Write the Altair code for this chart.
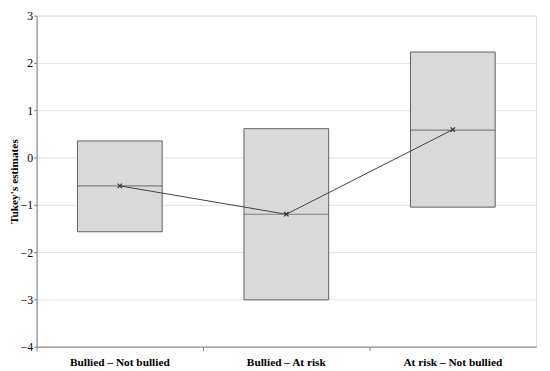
import altair as alt
import pandas as pd

categories = ["Bullied – Not bullied", "Bullied – At risk", "At risk – Not bullied"]
lower = [-1.57, -3.01, -1.05]
upper = [0.35, 0.61, 2.23]
median = [-0.60, -1.20, 0.58]
estimate = [-0.60, -1.20, 0.59]
y_ticks = [-4, -3, -2, -1, 0, 1, 2, 3]

df = pd.DataFrame({
    "cat": categories,
    "lower": lower,
    "upper": upper,
    "median": median,
    "est": estimate,
    "order": [0, 1, 2],
})

serif = "Liberation Serif"

x_enc = alt.X(
    "cat:N",
    sort=categories,
    title=None,
    scale=alt.Scale(paddingInner=0, paddingOuter=0),
    axis=alt.Axis(
        labelAngle=0,
        labelFont=serif,
        labelFontWeight="bold",
        labelFontSize=11.5,
        labelColor="#000000",
        labelPadding=6,
        bandPosition=0,
        tickSize=4,
        tickColor="#7f7f7f",
        domainColor="#7f7f7f",
        grid=False,
    ),
)

y_scale = alt.Scale(domain=[-4, 3], nice=False, zero=False)
y_axis = alt.Axis(
    values=y_ticks,
    title="Tukey's estimates",
    titleFont=serif,
    titleFontWeight="bold",
    titleFontSize=11.5,
    titleColor="#000000",
    titleX=-17,
    titleBaseline="bottom",
    labelFont=serif,
    labelFontSize=12,
    labelColor="#000000",
    labelPadding=1,
    tickSize=3,
    tickColor="#7f7f7f",
    domainColor="#7f7f7f",
    grid=True,
    gridColor="#e3e3e3",
    gridWidth=1,
    format="d",
    labelExpr="replace(datum.label, '-', '\u2212')",
)

base = alt.Chart(df)

boxes = base.mark_bar(
    size=86, fill="#d9d9d9", stroke="#5f5f5f", strokeWidth=1
).encode(
    x=x_enc,
    y=alt.Y("lower:Q", scale=y_scale, axis=y_axis),
    y2="upper:Q",
)

med = base.mark_tick(size=86, thickness=1.2, color="#5a5a5a").encode(
    x=alt.X("cat:N", sort=categories),
    y=alt.Y("median:Q"),
)

line = base.mark_line(color="#404040", strokeWidth=1).encode(
    x=alt.X("cat:N", sort=categories),
    y=alt.Y("est:Q"),
    order="order:Q",
)

pts = base.mark_point(
    shape="M-1,-1L1,1M-1,1L1,-1", size=20, filled=False,
    stroke="#303030", strokeWidth=1.2, opacity=1,
).encode(
    x=alt.X("cat:N", sort=categories),
    y=alt.Y("est:Q"),
)

chart = alt.layer(boxes, med, line, pts).properties(
    width=507,
    height=336,
    autosize=alt.AutoSizeParams(type="none"),
    padding={"left": 29, "top": 5, "right": 6, "bottom": 24},
).configure_view(stroke=None).configure(background="white")

chart.save("out.html", embed_options={"renderer": "svg", "actions": False})
